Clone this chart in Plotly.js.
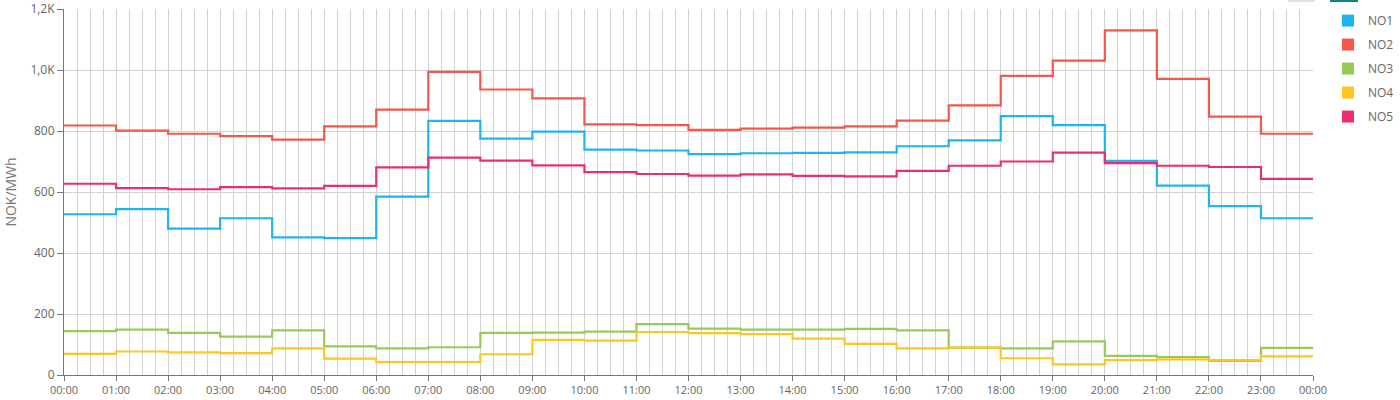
<!DOCTYPE html>
<html>
<head>
<meta charset="utf-8">
<script src="https://cdn.plot.ly/plotly-3.0.1.min.js"></script>
<style>
html,body{margin:0;padding:0;background:#fff;}
#chart{width:1400px;height:400px;}
</style>
</head>
<body>
<div id="chart"></div>
<script>
// Hour index 0..23 (each value holds from hour h to h+1)
const hours = [0,1,2,3,4,5,6,7,8,9,10,11,12,13,14,15,16,17,18,19,20,21,22,23];
const hourTickLabels = ["00:00","01:00","02:00","03:00","04:00","05:00","06:00","07:00","08:00","09:00","10:00","11:00","12:00","13:00","14:00","15:00","16:00","17:00","18:00","19:00","20:00","21:00","22:00","23:00","00:00"];
const yTickVals = [0,200,400,600,800,1000,1200];
const yTickText = ["0","200","400","600","800","1,0K","1,2K"];

const seriesNames = ["NO1","NO2","NO3","NO4","NO5"];
const seriesColors = ["#1eb4f1","#f5574a","#98ca5a","#ffc61f","#ec2f6c"];

const NO1 = [527,544,480,514,451,449,585,833,775,798,739,736,724,727,728,730,750,769,849,819,702,621,554,514];
const NO2 = [818,801,791,783,772,815,870,994,936,907,822,819,804,808,811,815,834,884,981,1031,1130,971,847,791];
const NO3 = [144,149,138,126,146,94,87,91,138,139,142,167,152,149,149,151,146,90,87,110,63,59,46,89];
const NO4 = [69,77,74,72,87,54,42,42,68,115,113,141,137,134,119,102,87,90,55,35,49,51,49,61];
const NO5 = [627,613,609,616,612,620,681,713,703,687,665,659,654,658,653,651,669,686,700,729,695,686,682,643];

const allSeries = [NO1,NO2,NO3,NO4,NO5];

const traces = [];
allSeries.forEach((vals, i) => {
  const xs = hours.concat([24]);
  const ys = vals.concat([vals[vals.length-1]]);
  traces.push({
    type: 'scatter', mode: 'lines', x: xs, y: ys,
    name: seriesNames[i], legendgroup: seriesNames[i], showlegend: false,
    line: {shape: 'hv', color: seriesColors[i], width: 2.2},
    hoverinfo: 'skip'
  });
});
// legend entries as squares
seriesNames.forEach((n, i) => {
  traces.push({
    type: 'scatter', mode: 'markers', x: [null], y: [null],
    name: n, legendgroup: n, showlegend: true,
    marker: {symbol: 'square', size: 12, color: seriesColors[i]}
  });
});

const font = {family: '"Open Sans", "Noto Sans", sans-serif', size: 12, color: '#666'};

const layout = {
  width: 1400, height: 400,
  margin: {l: 64, r: 87, t: 9, b: 25, autoexpand: false},
  paper_bgcolor: '#fff', plot_bgcolor: '#fff',
  font: font,
  showlegend: true,
  legend: {
    x: 1.012, xanchor: 'left', xref: 'paper', y: 1.008, yanchor: 'top',
    font: {family: font.family, size: 12, color: '#666'},
    tracegroupgap: 5, itemwidth: 30, bgcolor: 'rgba(0,0,0,0)'
  },
  xaxis: {
    range: [0, 24], fixedrange: true,
    tickmode: 'array', tickvals: hours.concat([24]), ticktext: hourTickLabels,
    ticks: 'outside', ticklen: 5, tickcolor: '#777', tickwidth: 1,
    showline: true, linecolor: '#777', linewidth: 1,
    showgrid: true, gridcolor: '#d2d2d2', gridwidth: 1,
    minor: {dtick: 0.25, tick0: 0, showgrid: true, gridcolor: '#d2d2d2', gridwidth: 1},
    tickfont: {family: font.family, size: 11, color: '#666'},
    zeroline: false, automargin: false
  },
  yaxis: {
    range: [0, 1200], fixedrange: true,
    tickmode: 'array', tickvals: yTickVals, ticktext: yTickText,
    ticks: 'outside', ticklen: 6, tickcolor: '#777', tickwidth: 1,
    showline: true, linecolor: '#777', linewidth: 1,
    showgrid: true, gridcolor: '#d2d2d2', gridwidth: 1,
    tickfont: {family: font.family, size: 12, color: '#666'},
    zeroline: false, automargin: false,
    title: {text: 'NOK/MWh', font: {family: font.family, size: 14, color: '#777'}, standoff: 10}
  },
  shapes: [
    {type: 'rect', xref: 'paper', yref: 'paper', x0: (1288-64)/1249, x1: (1315-64)/1249, y0: 1+ (9-2)/366, y1: 1+9/366, line: {width: 0}, fillcolor: '#e2e2e2'},
    {type: 'rect', xref: 'paper', yref: 'paper', x0: (1330-64)/1249, x1: (1358-64)/1249, y0: 1+ (9-2)/366, y1: 1+9/366, line: {width: 0}, fillcolor: '#13857a'}
  ]
};

Plotly.newPlot('chart', traces, layout, {displayModeBar: false, staticPlot: true});
</script>
</body>
</html>
